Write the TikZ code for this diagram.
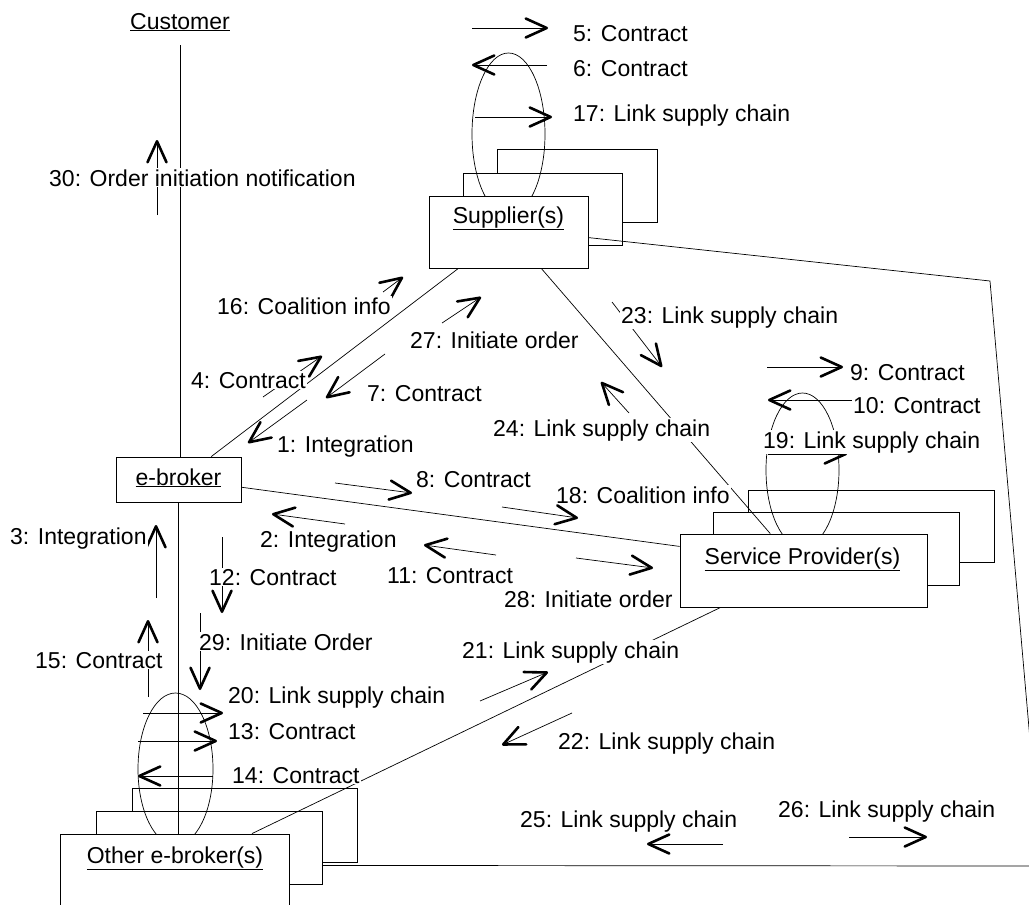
\documentclass[tikz,border=0pt]{standalone}
\usepackage{fontspec}
\setmainfont{Liberation Sans}
\usetikzlibrary{arrows.meta}
\begin{document}
\begin{tikzpicture}[x=1pt,y=-1pt,
  conn/.style={line width=0.7pt},
  msg/.style={line width=0.7pt,-{Straight Barb[length=21pt,width=19pt,line width=2.6pt,round]}},
  lbl/.style={font=\fontsize{23}{27}\selectfont,fill=white,inner sep=1pt,anchor=base west},
  obj/.style={draw,line width=0.8pt,fill=white,inner sep=0pt},
  objname/.style={font=\fontsize{23}{27}\selectfont,anchor=base,inner sep=0pt},
  selfloop/.style={line width=0.7pt}]
\useasboundingbox (0,0) rectangle (1029,905);
\clip (0,0) rectangle (1029,905);

% stacked boxes behind the multi-object symbols
\node[obj,minimum width=160pt,minimum height=73pt] (supB) at (577,185.5) {};
\node[obj,minimum width=159pt,minimum height=72pt] (supM) at (542.5,209) {};
\node[obj,minimum width=246pt,minimum height=72pt] (spB) at (871,526) {};
\node[obj,minimum width=246pt,minimum height=73pt] (spM) at (836,548.5) {};
\node[obj,minimum width=225pt,minimum height=74pt] (otherB) at (244.5,825) {};
\node[obj,minimum width=226pt,minimum height=73pt] (otherM) at (209,847.5) {};

% self-message loops
\draw[selfloop] (508.5,134) ellipse [x radius=36.5pt, y radius=81pt];
\draw[selfloop] (802.5,470) ellipse [x radius=36.5pt, y radius=77pt];
\draw[selfloop] (175.5,769) ellipse [x radius=37.5pt, y radius=76pt];

% front objects
\node[obj,minimum width=159pt,minimum height=72pt] (supplier) at (508.5,232) {};
\node[obj,minimum width=247pt,minimum height=73pt] (sp) at (803.5,570.5) {};
\node[obj,minimum width=229pt,minimum height=96pt] (other) at (174.5,882) {};
\node[obj,minimum width=125pt,minimum height=45pt] (ebroker) at (178.5,479.5) {};

\node[objname] (customer) at (180,29) {\underline{Customer}};
\node[objname] (supplierName) at (508.5,223) {\underline{Supplier(s)}};
\node[objname] (ebrokerName) at (178.5,485) {\underline{e-broker}};
\node[objname] (spName) at (802.5,564) {\underline{Service Provider(s)}};
\node[objname] (otherName) at (175,863) {\underline{Other e-broker(s)}};

% links
\draw[conn,shorten <=14pt] (customer.south) -- (customer.south |- ebroker.north);
\draw[conn] (ebroker.south) -- (ebroker.south |- other.north);
\draw[conn] (ebroker.35.5) -- (supplier.216.6);
\draw[conn] (ebroker.-7.7) -- (sp.169.7);
\draw[conn] (supplier.-48.8) -- (sp.132.5);
\draw[conn] (other.32.4) -- (sp.204.9);
\draw[conn] (supplier.-4.3) -- (990,281) -- (1041,866) -- (otherM.-9.8);

% messages
\draw[msg] (472,28) -- (548,28);
\draw[msg] (547,65) -- (472,65);
\draw[msg] (475,117) -- (552,117);
\draw[msg] (157,215) -- (157,140);
\draw[msg] (383,292) -- (403,277);
\draw[msg] (442,323) -- (481,297);
\draw[msg] (263,397) -- (322,356);
\draw[msg] (385,354) -- (326,398);
\draw[msg] (307,400) -- (248,443);
\draw[msg] (612,302) -- (662,367);
\draw[msg] (629,413) -- (601,382);
\draw[msg] (767,367) -- (843,367);
\draw[msg] (853,400) -- (768,400);
\draw[msg] (768,454) -- (847,454);
\draw[msg] (335,483) -- (412,493);
\draw[msg] (502,507) -- (578,518);
\draw[msg] (345,524) -- (272,514);
\draw[msg] (496,555) -- (424,545);
\draw[msg] (576,558) -- (653,568);
\draw[msg] (156,598) -- (156,525);
\draw[msg] (222,537) -- (222,613);
\draw[msg] (148,697) -- (148,620);
\draw[msg] (200,613) -- (200,690);
\draw[msg] (143,713) -- (223,713);
\draw[msg] (138,741) -- (217,741);
\draw[msg] (213,776) -- (138,776);
\draw[msg] (480,701) -- (548,672);
\draw[msg] (572,713) -- (502,745);
\draw[msg] (723,844) -- (647,844);
\draw[msg] (849,837) -- (927,837);

% message labels
\node[lbl] (l5) at (572,41) {5: Contract};
\node[lbl] (l6) at (572,76) {6: Contract};
\node[lbl] (l17) at (572,121) {17: Link supply chain};
\node[lbl] (l30) at (48,186) {30: Order initiation notification};
\node[lbl] (l16) at (216,314) {16: Coalition info};
\node[lbl] (l27) at (409,348) {27: Initiate order};
\node[lbl] (l23) at (620,323) {23: Link supply chain};
\node[lbl] (l4) at (190,388) {4: Contract};
\node[lbl] (l7) at (366,401) {7: Contract};
\node[lbl] (l1) at (276,452) {1: Integration};
\node[lbl] (l24) at (492,436) {24: Link supply chain};
\node[lbl] (l9) at (849,380) {9: Contract};
\node[lbl] (l10) at (852,413) {10: Contract};
\node[lbl] (l19) at (762,448) {19: Link supply chain};
\node[lbl] (l8) at (415,487) {8: Contract};
\node[lbl] (l18) at (555,503) {18: Coalition info};
\node[lbl] (l2) at (259,547) {2: Integration};
\node[lbl] (l3) at (9,544) {3: Integration};
\node[lbl] (l11) at (386,583) {11: Contract};
\node[lbl] (l12) at (208,585) {12: Contract};
\node[lbl] (l28) at (503,607) {28: Initiate order};
\node[lbl] (l29) at (198,650) {29: Initiate Order};
\node[lbl] (l21) at (461,658) {21: Link supply chain};
\node[lbl] (l15) at (34,668) {15: Contract};
\node[lbl] (l20) at (227,703) {20: Link supply chain};
\node[lbl] (l13) at (227,739) {13: Contract};
\node[lbl] (l22) at (557,749) {22: Link supply chain};
\node[lbl] (l14) at (231,783) {14: Contract};
\node[lbl] (l26) at (777,817) {26: Link supply chain};
\node[lbl] (l25) at (519,827) {25: Link supply chain};
\end{tikzpicture}
\end{document}
